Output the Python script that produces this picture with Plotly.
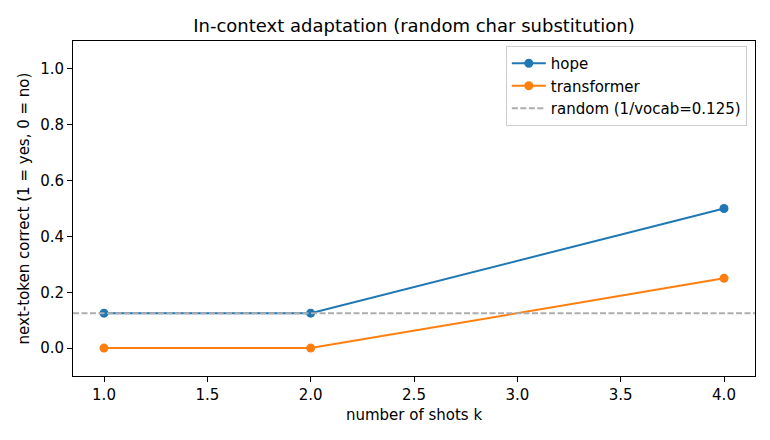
import plotly.graph_objects as go

shots = [1, 2, 4]
hope = [0.125, 0.125, 0.5]
transformer = [0.0, 0.0, 0.25]
random_level = 0.125
x_ticks = [1.0, 1.5, 2.0, 2.5, 3.0, 3.5, 4.0]
y_ticks = [0.0, 0.2, 0.4, 0.6, 0.8, 1.0]

fig = go.Figure()
fig.add_trace(go.Scatter(x=shots, y=hope, mode="lines+markers", name="hope",
                         line=dict(color="#1f77b4", width=2), marker=dict(size=9, color="#1f77b4")))
fig.add_trace(go.Scatter(x=shots, y=transformer, mode="lines+markers", name="transformer",
                         line=dict(color="#ff7f0e", width=2), marker=dict(size=9, color="#ff7f0e")))
fig.add_trace(go.Scatter(x=[0.85, 4.15], y=[random_level, random_level], mode="lines",
                         name="random (1/vocab=0.125)",
                         line=dict(color="#adadad", width=2, dash="6px,2.5px")))

axis_common = dict(showline=True, linecolor="black", linewidth=1, mirror=True,
                   ticks="outside", ticklen=5, tickcolor="black", showgrid=False,
                   zeroline=False, tickfont=dict(size=15, color="black"))
fig.update_layout(
    width=770, height=440,
    margin=dict(l=73, r=15, t=41, b=64),
    paper_bgcolor="white", plot_bgcolor="white",
    font=dict(family="DejaVu Sans", color="black"),
    title=dict(text="In-context adaptation (random char substitution)", x=0.5, xref="paper",
               xanchor="center", y=1 - 26 / 440, yanchor="middle", font=dict(size=18)),
    xaxis=dict(range=[0.85, 4.15], tickvals=x_ticks, ticktext=[f"{v:.1f}" for v in x_ticks],
               title=dict(text="number of shots k", font=dict(size=15), standoff=6), **axis_common),
    yaxis=dict(range=[-0.1, 1.1], tickvals=y_ticks, ticktext=[f"{v:.1f}" for v in y_ticks],
               title=dict(text="next-token correct (1 = yes, 0 = no)", font=dict(size=15), standoff=6),
               **axis_common),
    legend=dict(x=0.988, y=0.985, xanchor="right", yanchor="top", bgcolor="rgba(255,255,255,0.8)",
                bordercolor="#cccccc", borderwidth=1, font=dict(size=15), tracegroupgap=0,
                itemwidth=34),
    showlegend=True,
)
fig.write_html("out.html")
